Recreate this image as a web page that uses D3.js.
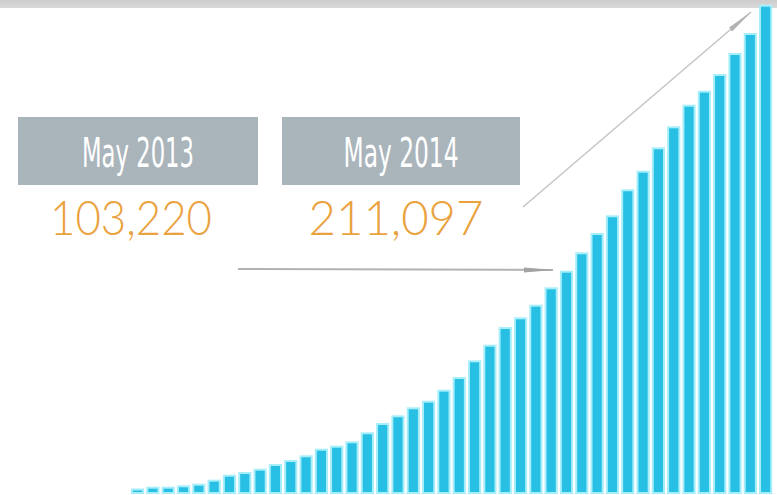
<!DOCTYPE html>
<html>
<head>
<meta charset="utf-8">
<script src="https://cdn.jsdelivr.net/npm/d3@7"></script>
<style>
  html, body { margin: 0; padding: 0; background: #ffffff; }
  svg { display: block; }
</style>
</head>
<body>
<svg id="chart" width="777" height="495"></svg>
<script>
// ---- data (bar heights in relative units) ----
const months = [
  "Dec 2010","Jan 2011","Feb 2011","Mar 2011","Apr 2011","May 2011","Jun 2011","Jul 2011",
  "Aug 2011","Sep 2011","Oct 2011","Nov 2011","Dec 2011","Jan 2012","Feb 2012","Mar 2012",
  "Apr 2012","May 2012","Jun 2012","Jul 2012","Aug 2012","Sep 2012","Oct 2012","Nov 2012",
  "Dec 2012","Jan 2013","Feb 2013","Mar 2013","Apr 2013","May 2013","Jun 2013","Jul 2013",
  "Aug 2013","Sep 2013","Oct 2013","Nov 2013","Dec 2013","Jan 2014","Feb 2014","Mar 2014",
  "Apr 2014","May 2014"
];
const values = [
  1.5, 3.3, 3.3, 4.7, 6.3, 10.3, 15.3, 18, 21.3, 26, 30, 34.7, 41.3, 44.3,
  48.7, 57.7, 67, 74.7, 82.7, 89.3, 100.3, 113, 129.7, 145.3, 163, 172.7, 185.3, 202.7,
  219.3, 237.7, 257, 274.7, 300.7, 319.3, 342.7, 363.7, 385.3, 399.3, 416, 437, 457, 485.3
];
const calloutPeriods = ["May 2013", "May 2014"];
const calloutValues = ["103,220", "211,097"];

// ---- layout ----
const W = 777, H = 495;
const baseline = 492;
const svg = d3.select("#chart");

const x = d3.scaleBand()
  .domain(months)
  .range([129.9, 773.3])
  .paddingInner(0.4)
  .paddingOuter(0.2);

const y = d3.scaleLinear()
  .domain([0, d3.max(values)])
  .range([baseline, 6.7]);

// top grey band
const grad = svg.append("defs").append("linearGradient")
  .attr("id", "band").attr("x1", 0).attr("y1", 0).attr("x2", 0).attr("y2", 1);
grad.append("stop").attr("offset", "0%").attr("stop-color", "#cdcdcd");
grad.append("stop").attr("offset", "100%").attr("stop-color", "#dadada");
svg.append("rect").attr("x", 0).attr("y", 0).attr("width", W).attr("height", 8)
  .attr("fill", "url(#band)");

// arrow markers
const defs = svg.select("defs");
defs.append("marker")
  .attr("id", "headH")
  .attr("markerUnits", "userSpaceOnUse")
  .attr("viewBox", "0 0 30 8")
  .attr("refX", 29).attr("refY", 4)
  .attr("markerWidth", 30).attr("markerHeight", 8)
  .attr("orient", "auto")
  .append("path").attr("d", "M0,1.5 L30,4 L0,6.5 Z").attr("fill", "#a3a3a3");
defs.append("marker")
  .attr("id", "headD")
  .attr("markerUnits", "userSpaceOnUse")
  .attr("viewBox", "0 0 28 8")
  .attr("refX", 27).attr("refY", 4)
  .attr("markerWidth", 28).attr("markerHeight", 8)
  .attr("orient", "auto")
  .append("path").attr("d", "M0,1.5 L28,4 L0,6.5 Z").attr("fill", "#b3b3b3");

// bars
svg.append("g")
  .selectAll("rect")
  .data(values)
  .join("rect")
  .attr("x", (d, i) => x(months[i]))
  .attr("y", d => y(d))
  .attr("width", x.bandwidth())
  .attr("height", d => baseline - y(d))
  .attr("fill", "#27bfe3")
  .attr("stroke", "#a6eefa")
  .attr("stroke-width", 4)
  .style("paint-order", "stroke");

// callout boxes
const boxes = [
  { x0: 18, x1: 258, textW: 112, numCx: 131, numW: 162 },
  { x0: 282, x1: 520, textW: 115, numCx: 396, numW: 175 }
];
const callouts = svg.append("g");
boxes.forEach((b, i) => {
  callouts.append("rect")
    .attr("x", b.x0).attr("y", 117)
    .attr("width", b.x1 - b.x0).attr("height", 68)
    .attr("fill", "#a9b4bb");
  callouts.append("text")
    .attr("x", (b.x0 + b.x1) / 2).attr("y", 167)
    .attr("text-anchor", "middle")
    .attr("font-family", "'Liberation Sans Narrow', 'DejaVu Sans Condensed', 'Roboto', sans-serif")
    .attr("font-size", 41)
    .attr("fill", "#ffffff")
    .attr("textLength", b.textW)
    .attr("lengthAdjust", "spacingAndGlyphs")
    .text(calloutPeriods[i]);
  callouts.append("text")
    .attr("x", b.numCx).attr("y", 235)
    .attr("text-anchor", "middle")
    .attr("font-family", "Lato, 'Open Sans', sans-serif")
    .attr("font-weight", 300)
    .attr("font-size", 47)
    .attr("fill", "#e9a23e")
    .attr("textLength", b.numW)
    .attr("lengthAdjust", "spacingAndGlyphs")
    .text(calloutValues[i]);
});

// arrows
svg.append("line")
  .attr("x1", 238).attr("y1", 269).attr("x2", 553).attr("y2", 270)
  .attr("stroke", "#b2b2b2").attr("stroke-width", 2)
  .attr("marker-end", "url(#headH)");
svg.append("line")
  .attr("x1", 523).attr("y1", 207).attr("x2", 751).attr("y2", 12)
  .attr("stroke", "#c6c6c6").attr("stroke-width", 1.6)
  .attr("marker-end", "url(#headD)");
</script>
</body>
</html>
